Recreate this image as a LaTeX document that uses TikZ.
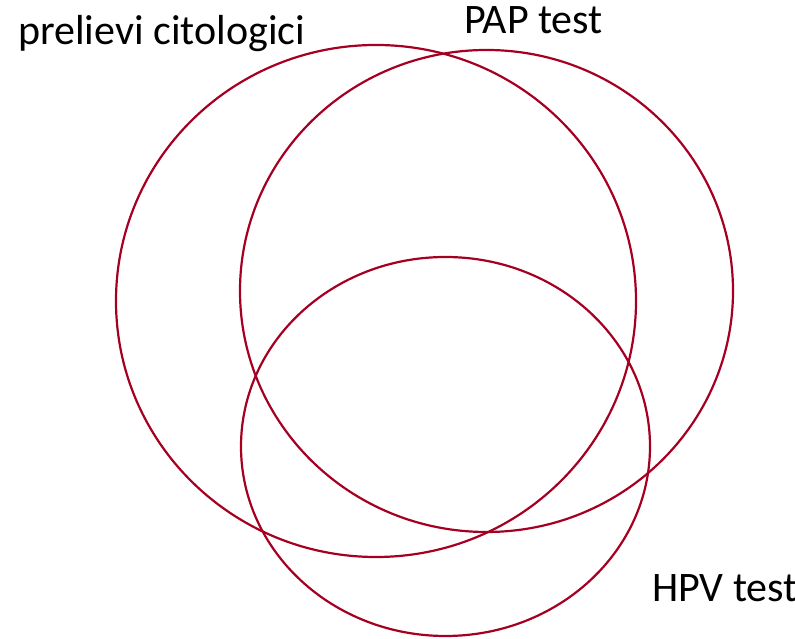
\documentclass[tikz,border=0pt]{standalone}
\usepackage{fontspec}
\setmainfont{Carlito}
\definecolor{vennred}{RGB}{165,0,33}
\begin{document}
\begin{tikzpicture}[x=1pt,y=1pt,
  venn/.style={draw=vennred,line width=2.2pt},
  lbl/.style={anchor=base west,inner sep=0pt,font=\fontsize{42}{50}\selectfont}]
\useasboundingbox (0,0) rectangle (795,639);
\begin{scope}
\clip (0,0) rectangle (795,639);
\draw[venn] (376,338) ellipse [x radius=260, y radius=256];
\draw[venn] (486.5,348) ellipse [x radius=246.5, y radius=241];
\draw[venn] (445.5,192.5) ellipse [x radius=204.5, y radius=189.5];
\node[lbl] (l1) at (18,594) {prelievi citologici};
\node[lbl] (l2) at (464,605) {PAP test};
\node[lbl] (l3) at (652,37) {HPV test};
\end{scope}
\end{tikzpicture}
\end{document}
